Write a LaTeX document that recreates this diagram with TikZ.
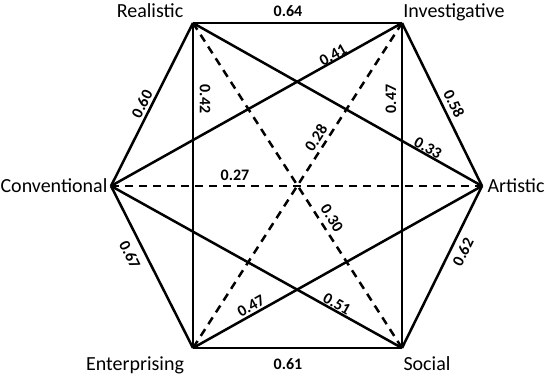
\documentclass[tikz,border=0pt]{standalone}
\usepackage{fontspec}
\setmainfont{Carlito}
\begin{document}
\begin{tikzpicture}[x=1pt,y=-1pt,
  edge/.style={line width=2.5pt, line cap=butt},
  dashedge/.style={edge, dash pattern=on 8pt off 6pt},
  wlabel/.style={font=\fontsize{16}{16}\selectfont\bfseries, inner sep=0pt},
  vlabel/.style={font=\fontsize{20}{20}\selectfont, inner sep=0pt, anchor=base}]
\useasboundingbox (0,0) rectangle (547,375);
\coordinate (R) at (193,23);
\coordinate (I) at (402,23);
\coordinate (A) at (482,186);
\coordinate (S) at (402,348);
\coordinate (E) at (193,348);
\coordinate (C) at (111,186);
% hexagon
\draw[edge] (R) -- (I);
\draw[edge] (I) -- (A);
\draw[edge] (A) -- (S);
\draw[edge] (S) -- (E);
\draw[edge] (E) -- (C);
\draw[edge] (C) -- (R);
% inner solid
\draw[edge] (R) -- (E);
\draw[edge] (I) -- (S);
\draw[edge] (R) -- (A);
\draw[edge] (I) -- (C);
\draw[edge] (C) -- (S);
\draw[edge] (E) -- (A);
% dashed diagonals
\draw[dashedge] (C) -- (A);
\draw[dashedge] (R) -- (S);
\draw[dashedge] (I) -- (E);
% vertex labels
\node[vlabel] (lR) at (150,17) {Realistic};
\node[vlabel] (lI) at (454,17) {Investigative};
\node[vlabel] (lC) at (54,192) {Conventional};
\node[vlabel] (lA) at (516,192) {Artistic};
\node[vlabel] (lE) at (135,370) {Enterprising};
\node[vlabel] (lS) at (427,370) {Social};
% weights
\node[wlabel] (w64) at (288,11) {0.64};
\node[wlabel, rotate=63.3] (w60) at (142,104) {0.60};
\node[wlabel, rotate=-90] (w42) at (205,99) {0.42};
\node[wlabel, rotate=29.1] (w41) at (333,55) {0.41};
\node[wlabel, rotate=57.3] (w28) at (316,138) {0.28};
\node[wlabel, rotate=90] (w47a) at (391,99) {0.47};
\node[wlabel, rotate=-63.7] (w58) at (454,104) {0.58};
\node[wlabel, rotate=-29.4] (w33) at (428,148) {0.33};
\node[wlabel] (w27) at (235,175) {0.27};
\node[wlabel, rotate=-57.2] (w30) at (332,218) {0.30};
\node[wlabel, rotate=-63.3] (w67) at (130,255) {0.67};
\node[wlabel, rotate=63.6] (w62) at (463,252) {0.62};
\node[wlabel, rotate=29.4] (w47b) at (251,306) {0.47};
\node[wlabel, rotate=-29] (w51) at (337,304) {0.51};
\node[wlabel] (w61) at (288,364) {0.61};
\end{tikzpicture}
\end{document}
